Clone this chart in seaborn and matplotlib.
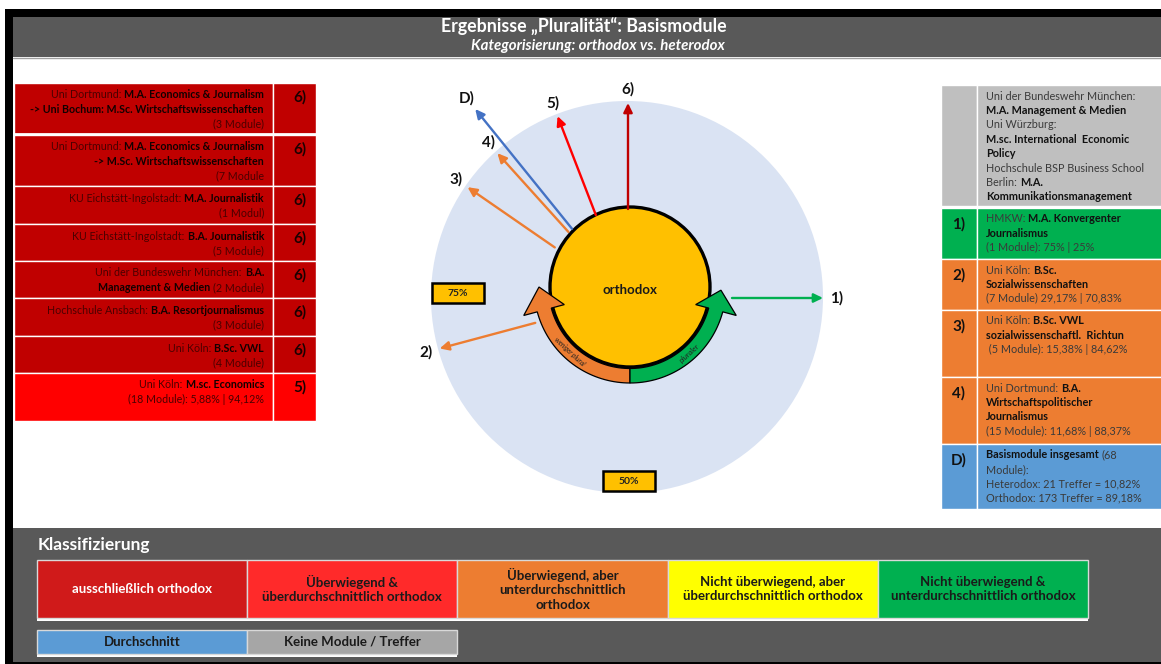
import numpy as np
import matplotlib.pyplot as plt
import matplotlib.patches as mpatches
import seaborn as sns

sns.set_theme(style="white")
plt.rcParams['font.family'] = ['Lato', 'DejaVu Sans']

# ---- data ----
title = "Ergebnisse „Pluralität“: Basismodule"
subtitle = "Kategorisierung: orthodox vs. heterodox"

# left table: (text, bold) segments per line
left_labels = ["6)", "6)", "6)", "6)", "6)", "6)", "6)", "5)"]
left_colors = ["#C00000"] * 7 + ["#FF0000"]
left_rows = [
    [[("Uni Dortmund:", 0), ("M.A. Economics & Journalism", 1)],
     [("-> Uni Bochum: M.Sc. Wirtschaftswissenschaften", 1)],
     [("(3 Module)", 0)]],
    [[("Uni Dortmund:", 0), ("M.A. Economics & Journalism", 1)],
     [("-> M.Sc. Wirtschaftswissenschaften", 1)],
     [("(7 Module", 0)]],
    [[("KU Eichstätt-Ingolstadt:", 0), ("M.A. Journalistik", 1)],
     [("(1 Modul)", 0)]],
    [[("KU Eichstätt-Ingolstadt:", 0), ("B.A. Journalistik", 1)],
     [("(5 Module)", 0)]],
    [[("Uni der Bundeswehr München:", 0), ("B.A.", 1)],
     [("Management & Medien", 1), ("(2 Module)", 0)]],
    [[("Hochschule Ansbach:", 0), ("B.A. Resortjournalismus", 1)],
     [("(3 Module)", 0)]],
    [[("Uni Köln:", 0), ("B.Sc. VWL", 1)],
     [("(4 Module)", 0)]],
    [[("Uni Köln:", 0), ("M.sc. Economics", 1)],
     [("(18 Module): 5,88% | 94,12%", 0)]],
]

# right table
right_labels = ["", "1)", "2)", "3)", "4)", "D)"]
right_colors = ["#BFBFBF", "#00B050", "#ED7D31", "#ED7D31", "#ED7D31", "#5B9BD5"]
right_rows = [
    [[("Uni der Bundeswehr München:", 0)],
     [("M.A. Management & Medien", 1)],
     [("Uni Würzburg:", 0)],
     [("M.sc. International  Economic", 1)],
     [("Policy", 1)],
     [("Hochschule BSP Business School", 0)],
     [("Berlin:", 0), ("M.A.", 1)],
     [("Kommunikationsmanagement", 1)]],
    [[("HMKW:", 0), ("M.A. Konvergenter", 1)],
     [("Journalismus", 1)],
     [("(1 Module): 75% | 25%", 0)]],
    [[("Uni Köln:", 0), ("B.Sc.", 1)],
     [("Sozialwissenschaften", 1)],
     [("(7 Module) 29,17% | 70,83%", 0)]],
    [[("Uni Köln:", 0), ("B.Sc. VWL", 1)],
     [("sozialwissenschaftl.  Richtun", 1)],
     [(" (5 Module): 15,38% | 84,62%", 0)]],
    [[("Uni Dortmund:", 0), ("B.A.", 1)],
     [("Wirtschaftspolitischer", 1)],
     [("Journalismus", 1)],
     [("(15 Module): 11,68% | 88,37%", 0)]],
    [[("Basismodule insgesamt", 1), ("(68", 0)],
     [("Module):", 0)],
     [("Heterodox: 21 Treffer = 10,82%", 0)],
     [("Orthodox: 173 Treffer = 89,18%", 0)]],
]

# arrows in the circle: share of heterodox hits
arrow_labels = ["1)", "2)", "3)", "4)", "D)", "5)", "6)"]
heterodox_pct = [75.0, 29.17, 15.38, 11.68, 10.82, 5.88, 0.0]
arrow_colors = ["#00B050", "#ED7D31", "#ED7D31", "#ED7D31", "#4472C4", "#FF0000", "#C00000"]
gauge_ticks = ["75%", "50%"]

# classification legend
class_names = ["ausschließlich orthodox",
               "Überwiegend &\nüberdurchschnittlich orthodox",
               "Überwiegend, aber\nunterdurchschnittlich\northodox",
               "Nicht überwiegend, aber\nüberdurchschnittlich orthodox",
               "Nicht überwiegend &\nunterdurchschnittlich orthodox"]
extra_names = ["Durchschnitt", "Keine Module / Treffer"]
class_colors = sns.color_palette(["#D01A1A", "#FF2A2A", "#ED7D31", "#FFFF00", "#00B050"])
extra_colors = sns.color_palette(["#5B9BD5", "#A6A6A6"])

# ---- figure: one axes in pixel units ----
W, H = 1161, 664
fig = plt.figure(figsize=(W / 100, H / 100), dpi=100)
ax = fig.add_axes([0, 0, 1, 1])
ax.set_xlim(0, W)
ax.set_ylim(H, 0)
ax.axis('off')
renderer = fig.canvas.get_renderer()


def rect(x0, y0, x1, y1, fc, ec='none', lw=0, z=1):
    ax.add_patch(mpatches.Rectangle((x0, y0), x1 - x0, y1 - y0, fc=fc, ec=ec, lw=lw, zorder=z))


def put_line(x, y, segs, ha, size, cols):
    arts = []
    for s, b in segs:
        arts.append(ax.text(0, y, s, fontsize=size, fontweight='bold' if b else 'normal',
                            color=cols[b], va='center', ha='left', zorder=6))
    widths = [t.get_window_extent(renderer).width for t in arts]
    gap = 3
    total = sum(widths) + gap * (len(arts) - 1)
    x0 = x - total if ha == 'right' else x
    for t, w in zip(arts, widths):
        t.set_x(x0)
        x0 += w + gap


# frame and panels
rect(5, 9, W, H, 'black')
rect(13, 17, W, 57, '#595959')
rect(13, 57, W, 528, 'white')
ax.plot([13, W], [57.5, 57.5], color='#A0A0A0', lw=1, zorder=2)
rect(13, 528, W, 662, '#595959')

ax.text(584, 27, title, color='white', fontsize=12.8, fontweight='bold', ha='center', va='center')
ax.text(598, 46, subtitle, color='white', fontsize=10.8, fontweight='bold', style='italic',
        ha='center', va='center')

# left table
left_edges = [83, 135, 186, 224, 261, 298, 336, 373, 421]
for i, lines in enumerate(left_rows):
    top, bot = left_edges[i], left_edges[i + 1]
    rect(14, top, 273, bot, left_colors[i], ec='white', lw=1, z=2)
    rect(273, top, 316, bot, left_colors[i], ec='white', lw=1, z=2)
    for k, segs in enumerate(lines):
        put_line(264, top + 12 + 14.3 * k, segs, 'right', 7.7, ['#4a0000', '#120000'])
    ax.text(300, top + 14, left_labels[i], fontsize=11, fontweight='bold', color='#1a0000',
            ha='center', va='center', zorder=6)
ax.plot([14, 316], [134, 134], color='white', lw=2, zorder=3)

# right table
right_edges = [85, 206, 259, 310, 377, 444, 509]
for i, lines in enumerate(right_rows):
    top, bot = right_edges[i], right_edges[i + 1]
    if i == 1:
        top = 208
    rect(941, top, 977, bot, right_colors[i], ec='white', lw=1, z=2)
    rect(977, top, W + 5, bot, right_colors[i], ec='white', lw=1, z=2)
    for k, segs in enumerate(lines):
        put_line(986, top + 11 + 14.4 * k, segs, 'left', 7.8, ['#3a3a3a', '#111111'])
    if right_labels[i]:
        ax.text(959, top + 16, right_labels[i], fontsize=11, fontweight='bold', color='#111111',
                ha='center', va='center', zorder=6)

# circle diagram
cx, cy = 627, 297
ax.add_patch(mpatches.Circle((cx, cy), 196, fc='#DAE3F3', ec='none', zorder=2))
yx, yy, yr = 630, 287, 80
ax.add_patch(mpatches.Circle((yx, yy), yr, fc='#FFC000', ec='black', lw=2.4, zorder=4))
ax.text(yx, yy + 3, "orthodox", fontsize=9.5, fontweight='bold', color='#1a1a1a',
        ha='center', va='center', zorder=7)


def pt(r, a):
    a = np.radians(a)
    return yx + r * np.cos(a), yy - r * np.sin(a)


def curved_arrow(a_end, a_tip, color):
    r_in, r_out = 81.5, 96
    arc = np.linspace(-90, a_end, 40)
    pts = [pt(r_out, a) for a in arc]
    pts += [pt(110, a_end), pt(91, a_tip), pt(68, a_end)]
    pts += [pt(r_in, a) for a in arc[::-1]]
    ax.add_patch(mpatches.Polygon(pts, closed=True, fc=color, ec='black', lw=0.9, zorder=5))


curved_arrow(-165, -180, '#ED7D31')
curved_arrow(-15, -2, '#00B050')
x, y = pt(89, -133)
ax.text(x, y, "weniger plural", fontsize=4.8, style='italic', color='#222222', rotation=-43,
        ha='center', va='center', rotation_mode='anchor', zorder=7)
x, y = pt(89, -48)
ax.text(x, y, "pluraler", fontsize=5.5, style='italic', color='#222222', rotation=42,
        ha='center', va='center', rotation_mode='anchor', zorder=7)

# radial arrows: angle counter-clockwise from top = share * 360
for lab, p, c in zip(arrow_labels, heterodox_pct, arrow_colors):
    phi = np.radians(p * 3.6)
    dx, dy = -np.sin(phi), -np.cos(phi)
    r0 = 104 if lab == "1)" else (96 if lab == "2)" else 89)
    r1 = 243 if lab == "D)" else 195
    ax.annotate("", xy=(cx + 1 + r1 * dx, cy + 1 + r1 * dy), xytext=(cx + 1 + r0 * dx, cy + 1 + r0 * dy),
                arrowprops=dict(arrowstyle='-|>,head_length=0.45,head_width=0.22', color=c, lw=1.7,
                                shrinkA=0, shrinkB=0), zorder=6)
    ax.text(cx + 1 + (r1 + 14) * dx, cy + 1 + (r1 + 14) * dy, lab, fontsize=11, fontweight='bold',
            color='#111111', ha='center', va='center', zorder=7)

for lab, (bx, by) in zip(gauge_ticks, [(432, 283), (603, 471)]):
    rect(bx, by, bx + 52, by + 20, '#FFC000', ec='black', lw=1.8, z=6)
    ax.text(bx + 26, by + 10.5, lab, fontsize=7.5, fontweight='bold', color='#222222',
            ha='center', va='center', zorder=7)

# classification legend
ax.text(38, 545, "Klassifizierung", color='white', fontsize=12.5, fontweight='bold', ha='left', va='center')
bw = 210.2
for i, (name, col) in enumerate(zip(class_names, class_colors)):
    x0 = 37 + i * bw
    rect(x0, 618, x0 + bw, 621, 'white', z=2)
    rect(x0, 560, x0 + bw, 618, col, ec='#D9D9D9', lw=1, z=3)
    ax.text(x0 + bw / 2, 589, name, fontsize=9.5, fontweight='bold', linespacing=1.25,
            color='white' if i == 0 else '#1a1a1a', ha='center', va='center', zorder=6)
for i, (name, col) in enumerate(zip(extra_names, extra_colors)):
    x0 = 37 + i * bw
    rect(x0, 654, x0 + bw, 657, 'white', z=2)
    rect(x0, 630, x0 + bw, 654, col, ec='#D9D9D9', lw=1, z=3)
    ax.text(x0 + bw / 2, 642, name, fontsize=9.5, fontweight='bold', color='#1a1a1a',
            ha='center', va='center', zorder=6)

fig.savefig('out.png', dpi=100, facecolor='white')
